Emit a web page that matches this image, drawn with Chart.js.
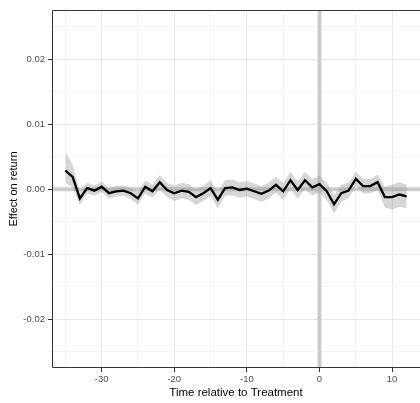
<!DOCTYPE html>
<html lang="en">
<head>
<meta charset="UTF-8">
<title>Effect on return</title>
<style>
  html, body { margin: 0; padding: 0; background: #fff; }
  #chart { display: block; }
</style>
</head>
<body>
<canvas id="chart" width="420" height="403"></canvas>
<script src="https://cdn.jsdelivr.net/npm/chart.js"></script>
<script>
// time relative to treatment
const times = [-35, -34, -33, -32, -31, -30, -29, -28, -27, -26, -25, -24, -23, -22, -21, -20,
               -19, -18, -17, -16, -15, -14, -13, -12, -11, -10, -9, -8, -7, -6, -5, -4,
               -3, -2, -1, 0, 1, 2, 3, 4, 5, 6, 7, 8, 9, 10, 11, 12];
// point estimates
const estimate = [0.0029, 0.0019, -0.0014, 0.0002, -0.0002, 0.0004, -0.0006, -0.0003, -0.0002, -0.0006, -0.0014, 0.0004, -0.0003, 0.0011, -0.0001, -0.0006,
                  -0.0002, -0.0004, -0.0012, -0.0006, 0.0002, -0.0016, 0.0002, 0.0003, -0.0001, 0.0001, -0.0003, -0.0007, -0.0002, 0.0007, -0.0003, 0.0014,
                  -0.0001, 0.0014, 0.0003, 0.0008, -0.0003, -0.0023, -0.0006, -0.0002, 0.0016, 0.0005, 0.0005, 0.0011, -0.0012, -0.0012, -0.0008, -0.0011];
// confidence band
const lower = [0.0010, 0.0003, -0.0024, -0.0006, -0.0010, -0.0004, -0.0014, -0.0011, -0.0010, -0.0015, -0.0024, -0.0006, -0.0013, 0.0000, -0.0012, -0.0018,
               -0.0014, -0.0016, -0.0024, -0.0018, -0.0010, -0.0029, -0.0010, -0.0009, -0.0013, -0.0011, -0.0015, -0.0019, -0.0014, -0.0005, -0.0016, 0.0001,
               -0.0014, 0.0001, -0.0010, -0.0005, -0.0016, -0.0037, -0.0019, -0.0014, 0.0005, -0.0006, -0.0006, -0.0001, -0.0028, -0.0031, -0.0027, -0.0029];
const upper = [0.0058, 0.0038, -0.0004, 0.0010, 0.0006, 0.0012, 0.0002, 0.0005, 0.0006, 0.0003, -0.0004, 0.0014, 0.0007, 0.0022, 0.0010, 0.0006,
               0.0010, 0.0008, 0.0000, 0.0006, 0.0014, -0.0003, 0.0014, 0.0015, 0.0011, 0.0013, 0.0009, 0.0005, 0.0010, 0.0019, 0.0010, 0.0027,
               0.0012, 0.0027, 0.0016, 0.0021, 0.0010, -0.0009, 0.0007, 0.0010, 0.0027, 0.0016, 0.0016, 0.0023, 0.0004, 0.0007, 0.0011, 0.0007];

const xMajor = [-30, -20, -10, 0, 10];
const xMinor = [-35, -25, -15, -5, 5];
const xLabels = ['-30', '-20', '-10', '0', '10'];
const yMajor = [-0.02, -0.01, 0, 0.01, 0.02];
const yMinor = [-0.025, -0.015, -0.005, 0.005, 0.015, 0.025];
const yLabels = ['-0.02', '-0.01', '0.00', '0.01', '0.02'];

Chart.defaults.font.family = "'Liberation Sans', Arial, sans-serif";

const toPts = arr => times.map((t, i) => ({ x: t, y: arr[i] }));

// zero lines under the band, panel border on top
const panelLines = {
    id: 'panelLines',
    beforeDatasetsDraw(chart) {
        const { ctx, chartArea: a, scales: { x, y } } = chart;
        ctx.save();
        ctx.strokeStyle = 'rgba(190,190,190,0.75)';
        ctx.lineWidth = 4;
        const y0 = y.getPixelForValue(0);
        ctx.beginPath(); ctx.moveTo(a.left, y0); ctx.lineTo(a.right, y0); ctx.stroke();
        const x0 = x.getPixelForValue(0);
        ctx.beginPath(); ctx.moveTo(x0, a.top); ctx.lineTo(x0, a.bottom); ctx.stroke();
        ctx.restore();
    },
    afterDatasetsDraw(chart) {
        const { ctx, chartArea: a } = chart;
        ctx.save();
        ctx.strokeStyle = '#333333';
        ctx.lineWidth = 1;
        ctx.beginPath();
        ctx.moveTo(a.right + 1, a.top + 0.5);
        ctx.lineTo(a.left + 0.5, a.top + 0.5);
        ctx.lineTo(a.left + 0.5, a.bottom - 0.5);
        ctx.lineTo(a.right + 1, a.bottom - 0.5);
        ctx.stroke();
        ctx.restore();
    }
};

const tickFont = { size: 9.5 };

new Chart(document.getElementById('chart'), {
    type: 'line',
    data: {
        datasets: [
            { data: toPts(estimate), borderColor: '#000', borderWidth: 2.3, pointRadius: 0, fill: false, tension: 0 },
            { data: toPts(lower), borderColor: 'transparent', borderWidth: 0, pointRadius: 0, fill: false },
            { data: toPts(upper), borderColor: 'transparent', borderWidth: 0, pointRadius: 0, fill: '-1',
              backgroundColor: 'rgba(153,153,153,0.4)' }
        ]
    },
    options: {
        responsive: false,
        animation: false,
        devicePixelRatio: 1,
        layout: { padding: { top: 10, right: 0, left: 0, bottom: 0 } },
        plugins: { legend: { display: false }, tooltip: { enabled: false } },
        scales: {
            x: {
                type: 'linear',
                min: -36.84,
                max: 13.84,
                afterBuildTicks: s => { s.ticks = xMinor.concat(xMajor).sort((a, b) => a - b).map(v => ({ value: v })); },
                afterFit: s => { s.height = 35; },
                ticks: {
                    autoSkip: false, maxRotation: 0, color: '#4d4d4d', font: tickFont, padding: 2,
                    callback: v => { const i = xMajor.indexOf(v); return i < 0 ? '' : xLabels[i]; }
                },
                grid: {
                    color: c => xMajor.includes(c.tick.value) ? '#e8e8e8' : '#f4f4f4',
                    tickColor: c => xMajor.includes(c.tick.value) ? '#333333' : 'rgba(0,0,0,0)',
                    tickLength: 4
                },
                border: { display: false },
                title: { display: true, text: 'Time relative to Treatment', color: '#000', font: { size: 11.5 }, padding: { top: 0, bottom: 3 } }
            },
            y: {
                type: 'linear',
                min: -0.0275,
                max: 0.0276,
                afterBuildTicks: s => { s.ticks = yMinor.concat(yMajor).sort((a, b) => a - b).map(v => ({ value: v })); },
                afterFit: s => { s.width = 52; },
                ticks: {
                    autoSkip: false, color: '#4d4d4d', font: tickFont, padding: 3,
                    callback: v => { const i = yMajor.indexOf(v); return i < 0 ? '' : yLabels[i]; }
                },
                grid: {
                    color: c => yMajor.includes(c.tick.value) ? '#e8e8e8' : '#f4f4f4',
                    tickColor: c => yMajor.includes(c.tick.value) ? '#333333' : 'rgba(0,0,0,0)',
                    tickLength: 4
                },
                border: { display: false },
                title: { display: true, text: 'Effect on return', color: '#000', font: { size: 11 }, padding: { top: 7, bottom: 0 } }
            }
        }
    },
    plugins: [panelLines]
});
</script>
</body>
</html>
